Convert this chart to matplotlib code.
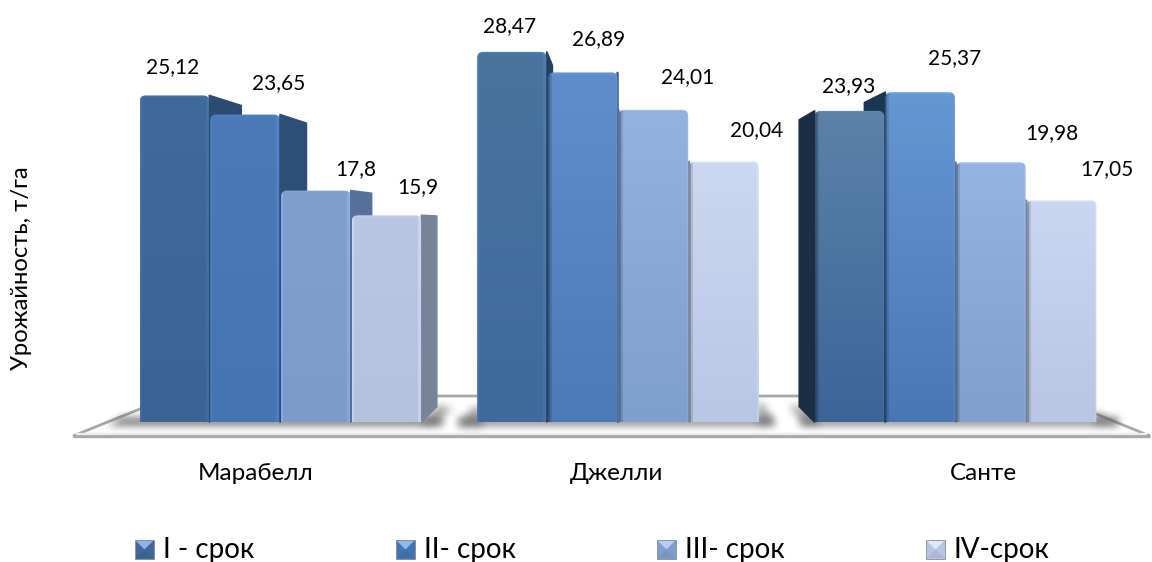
import numpy as np
import matplotlib
matplotlib.use('Agg')
import matplotlib.pyplot as plt
from matplotlib.path import Path
from matplotlib.patches import Polygon, PathPatch

plt.rcParams['font.family'] = ['Lato', 'Noto Sans', 'DejaVu Sans']

varieties = ['Марабелл', 'Джелли', 'Санте']
terms = ['I - срок', 'II- срок', 'III- срок', 'IV-срок']
term1 = [25.12, 28.47, 23.93]
term2 = [23.65, 26.89, 25.37]
term3 = [17.8, 24.01, 19.98]
term4 = [15.9, 20.04, 17.05]
series = [term1, term2, term3, term4]

# front colours, top and bottom of each bar: [variety][term]
tops = [['#3f6a9a', '#4a7ab8', '#81a0cf', '#b9c7e3'],
        ['#49749f', '#5e8ecb', '#95b1df', '#cbd8f1'],
        ['#5a82aa', '#6597d3', '#96b3e1', '#cad7f1']]
bottoms = [['#3b6494', '#4674b2', '#7c9bca', '#b4c2de'],
           ['#3e6a9c', '#4a7ab9', '#7f9fcf', '#b8c7e4'],
           ['#3b6598', '#4877b6', '#809fcd', '#b8c6e3']]
sides = [['#2b4b72', '#2d4e76', '#566f9b', '#77839b'],
         ['#24405f', '#2b4b72', '#566f9b', '#77839b'],
         ['#1a2e45', '#1c3550', '#566f9b', '#77839b']]
legend_colors = ['#3d6898', '#4076b2', '#7e9fcd', '#b6c5e2']
legend_tops = ['#8db4e6', '#8fb8ec', '#b5cdf0', '#dfe8f8']

W, H = 1152, 562
BASE_PX = 422
PX_PER_VALUE = 13.0
GROUP_PX = 337.5
FIRST_GROUP_PX = 280.5

fig = plt.figure(figsize=(W / 100, H / 100), dpi=100)

# pixel-space layer under the bars: floor, shadows, legend, captions
bg = fig.add_axes([0, 0, 1, 1])
bg.set_xlim(0, W)
bg.set_ylim(H, 0)
bg.axis('off')

# value-space layer for the columns
ax = fig.add_axes([0, 0, 1, 1], zorder=2)
ax.patch.set_alpha(0)
ax.axis('off')
xlim = (-FIRST_GROUP_PX / GROUP_PX, (W - FIRST_GROUP_PX) / GROUP_PX)
ylim = (-(H - BASE_PX) / PX_PER_VALUE, BASE_PX / PX_PER_VALUE)

# floor
floor = Polygon([(73, 436), (1150, 436), (1052, 396), (172, 396)], closed=True,
                facecolor='white', edgecolor='#a8a8a8', linewidth=2, joinstyle='miter')
bg.add_patch(floor)
bg.plot([73, 1150], [436, 436], color='#a8a8a8', lw=2.4, solid_capstyle='butt')
bg.plot([76, 1147], [433.5, 433.5], color='#ececec', lw=1.6, solid_capstyle='butt')


def soft_shadow(points, strength=0.5, blur=9):
    # blurred polygon used for the shadow cast on the floor
    xs = np.arange(0, W)
    ys = np.arange(380, 445)
    gx, gy = np.meshgrid(xs, ys)
    inside = Path(points).contains_points(np.c_[gx.ravel(), gy.ravel()])
    mask = inside.reshape(gx.shape).astype(float)
    kernel = np.ones(blur) / blur
    for _ in range(2):
        mask = np.apply_along_axis(np.convolve, 0, mask, kernel, mode='same')
        mask = np.apply_along_axis(np.convolve, 1, mask, kernel, mode='same')
    rgba = np.zeros(mask.shape + (4,))
    rgba[..., :3] = 0.35
    rgba[..., 3] = mask * strength
    bg.imshow(rgba, extent=(0, W, 445, 380), aspect='auto', zorder=3, interpolation='bilinear')


soft_shadow([(122, 416), (442, 416), (442, 425), (108, 425)], strength=0.75)
soft_shadow([(437, 404), (452, 408), (434, 424), (420, 424)])
soft_shadow([(472, 406), (482, 406), (482, 426), (458, 426)])
soft_shadow([(458, 416), (772, 416), (772, 425), (458, 425)], strength=0.65)
soft_shadow([(757, 402), (762, 402), (776, 424), (757, 424)])
soft_shadow([(788, 405), (815, 405), (820, 424), (803, 424)])
soft_shadow([(800, 416), (1118, 416), (1118, 425), (800, 425)], strength=0.65)
soft_shadow([(1094, 411), (1098, 411), (1116, 424), (1094, 424)])
bg.set_xlim(0, W)
bg.set_ylim(H, 0)

# columns go through ax.bar, the shaded faces are then painted over each rectangle
pitch = 70.7 / GROUP_PX
bar_w = 69.7 / GROUP_PX
centers = np.arange(len(varieties))
rects = [ax.bar(centers + (i - 1.5) * pitch, vals, width=bar_w, color='none', linewidth=0)
         for i, vals in enumerate(series)]

# depth of the columns converges on a point behind the middle group
VANISH_X, VANISH_Y, DEPTH = 1.0, 15.15, 0.078
corner = 6.0


def back(x, y):
    return x + DEPTH * (VANISH_X - x), y + DEPTH * (VANISH_Y - y)


def face_path(x0, x1, top):
    rx, ry = corner / GROUP_PX, corner / PX_PER_VALUE
    verts = [(x0, 0), (x0, top - ry), (x0, top), (x0 + rx, top), (x1 - rx, top),
             (x1, top), (x1, top - ry), (x1, 0), (x0, 0)]
    codes = [Path.MOVETO, Path.LINETO, Path.CURVE3, Path.CURVE3, Path.LINETO,
             Path.CURVE3, Path.CURVE3, Path.LINETO, Path.CLOSEPOLY]
    return Path(verts, codes)


def to_rgb(c):
    return np.array(matplotlib.colors.to_rgb(c))


def face_image(top_c, bottom_c, light_right):
    # vertical gradient with narrow bevels along the column edges
    rows, cols = 300, 70
    t = np.linspace(0, 1, rows)[:, None, None]
    img = to_rgb(top_c)[None, None, :] * (1 - t) + to_rgb(bottom_c)[None, None, :] * t
    img = np.repeat(img, cols, axis=1)
    shade = np.ones((rows, cols))
    if light_right:
        shade[:, :2] *= 1.08
        shade[:, -4:-1] *= 1.08
        shade[:, -1] *= 0.75
    else:
        shade[:, :2] *= 0.68
        shade[:, 2:4] *= 0.88
        shade[:, -2:] *= 1.04
    shade[:2, :] *= 1.06
    return np.clip(img * shade[..., None], 0, 1)


# columns further from the vanishing point are painted first
order = []
for i, container in enumerate(rects):
    for g, rect in enumerate(container):
        mid = rect.get_x() + rect.get_width() / 2
        order.append((abs(mid - VANISH_X), g, i, rect))
order.sort(key=lambda o: -o[0])

for z, (_, g, i, rect) in enumerate(order):
    x0 = rect.get_x()
    x1 = x0 + rect.get_width()
    top = rect.get_height()
    mid = (x0 + x1) / 2
    edge = x1 if mid < VANISH_X else x0
    bx, by = back(edge, top)
    _, bb = back(edge, 0)
    zz = 3 + z * 0.1
    side = Polygon([(edge, 0), (bx, bb), (bx, by), (edge, top)], closed=True,
                   facecolor=sides[g][i], edgecolor=sides[g][i], linewidth=1.2,
                   joinstyle='round', zorder=zz)
    ax.add_patch(side)
    im = ax.imshow(face_image(tops[g][i], bottoms[g][i], mid < 0.8),
                   extent=(x0, x1, 0, top), aspect='auto', zorder=zz + 0.01,
                   interpolation='bilinear')
    clip = PathPatch(face_path(x0, x1, top), transform=ax.transData, facecolor='none',
                     edgecolor='none')
    ax.add_patch(clip)
    im.set_clip_path(clip)

ax.set_xlim(*xlim)
ax.set_ylim(*ylim)

# value labels sit off the columns by hand-set offsets, in pixels
label_dx = [[-2, -2, -1], [33, 16, 34], [40, 34, 61], [31, 33, 45]]
label_dy = [[28, 26, 25], [31, 33, 34], [22, 33, 29], [28, 31, 31]]
for i, container in enumerate(rects):
    for g, rect in enumerate(container):
        v = series[i][g]
        ax.annotate(str(v).replace('.', ','),
                    (rect.get_x() + rect.get_width() / 2, v),
                    xytext=(label_dx[i][g], label_dy[i][g]), textcoords='offset pixels',
                    ha='center', va='center', fontsize=15, color='black', zorder=10)

# variety captions
caption_x = [256, 617, 983]
for name, px in zip(varieties, caption_x):
    bg.text(px, 473, name, ha='center', va='center', fontsize=17.5, color='black')

bg.text(22, 268, 'Урожайность, т/га', rotation=90, ha='center', va='center',
        fontsize=17.2, color='black')

# legend: small bevelled squares with their captions
legend_x = [135, 396, 657, 926]
for name, px, col, light in zip(terms, legend_x, legend_colors, legend_tops):
    s = 19
    y0 = 540
    mid = (px + s / 2, y0 + s / 2)
    bg.add_patch(Polygon([(px, y0), (px + s, y0), (px + s, y0 + s), (px, y0 + s)],
                         closed=True, facecolor=col, edgecolor='#8a8a8a', linewidth=0.6))
    bg.add_patch(Polygon([(px + 1, y0 + 1), (px + s - 1, y0 + 1), mid], closed=True,
                         facecolor=light, edgecolor='none'))
    bg.add_patch(Polygon([(px + 1, y0 + s - 1), (px + s - 1, y0 + s - 1), mid], closed=True,
                         facecolor=to_rgb(col) * 0.94, edgecolor='none'))
    bg.text(px + 28, 550, name, ha='left', va='center', fontsize=20, color='black')

fig.savefig('out.png', dpi=100)
